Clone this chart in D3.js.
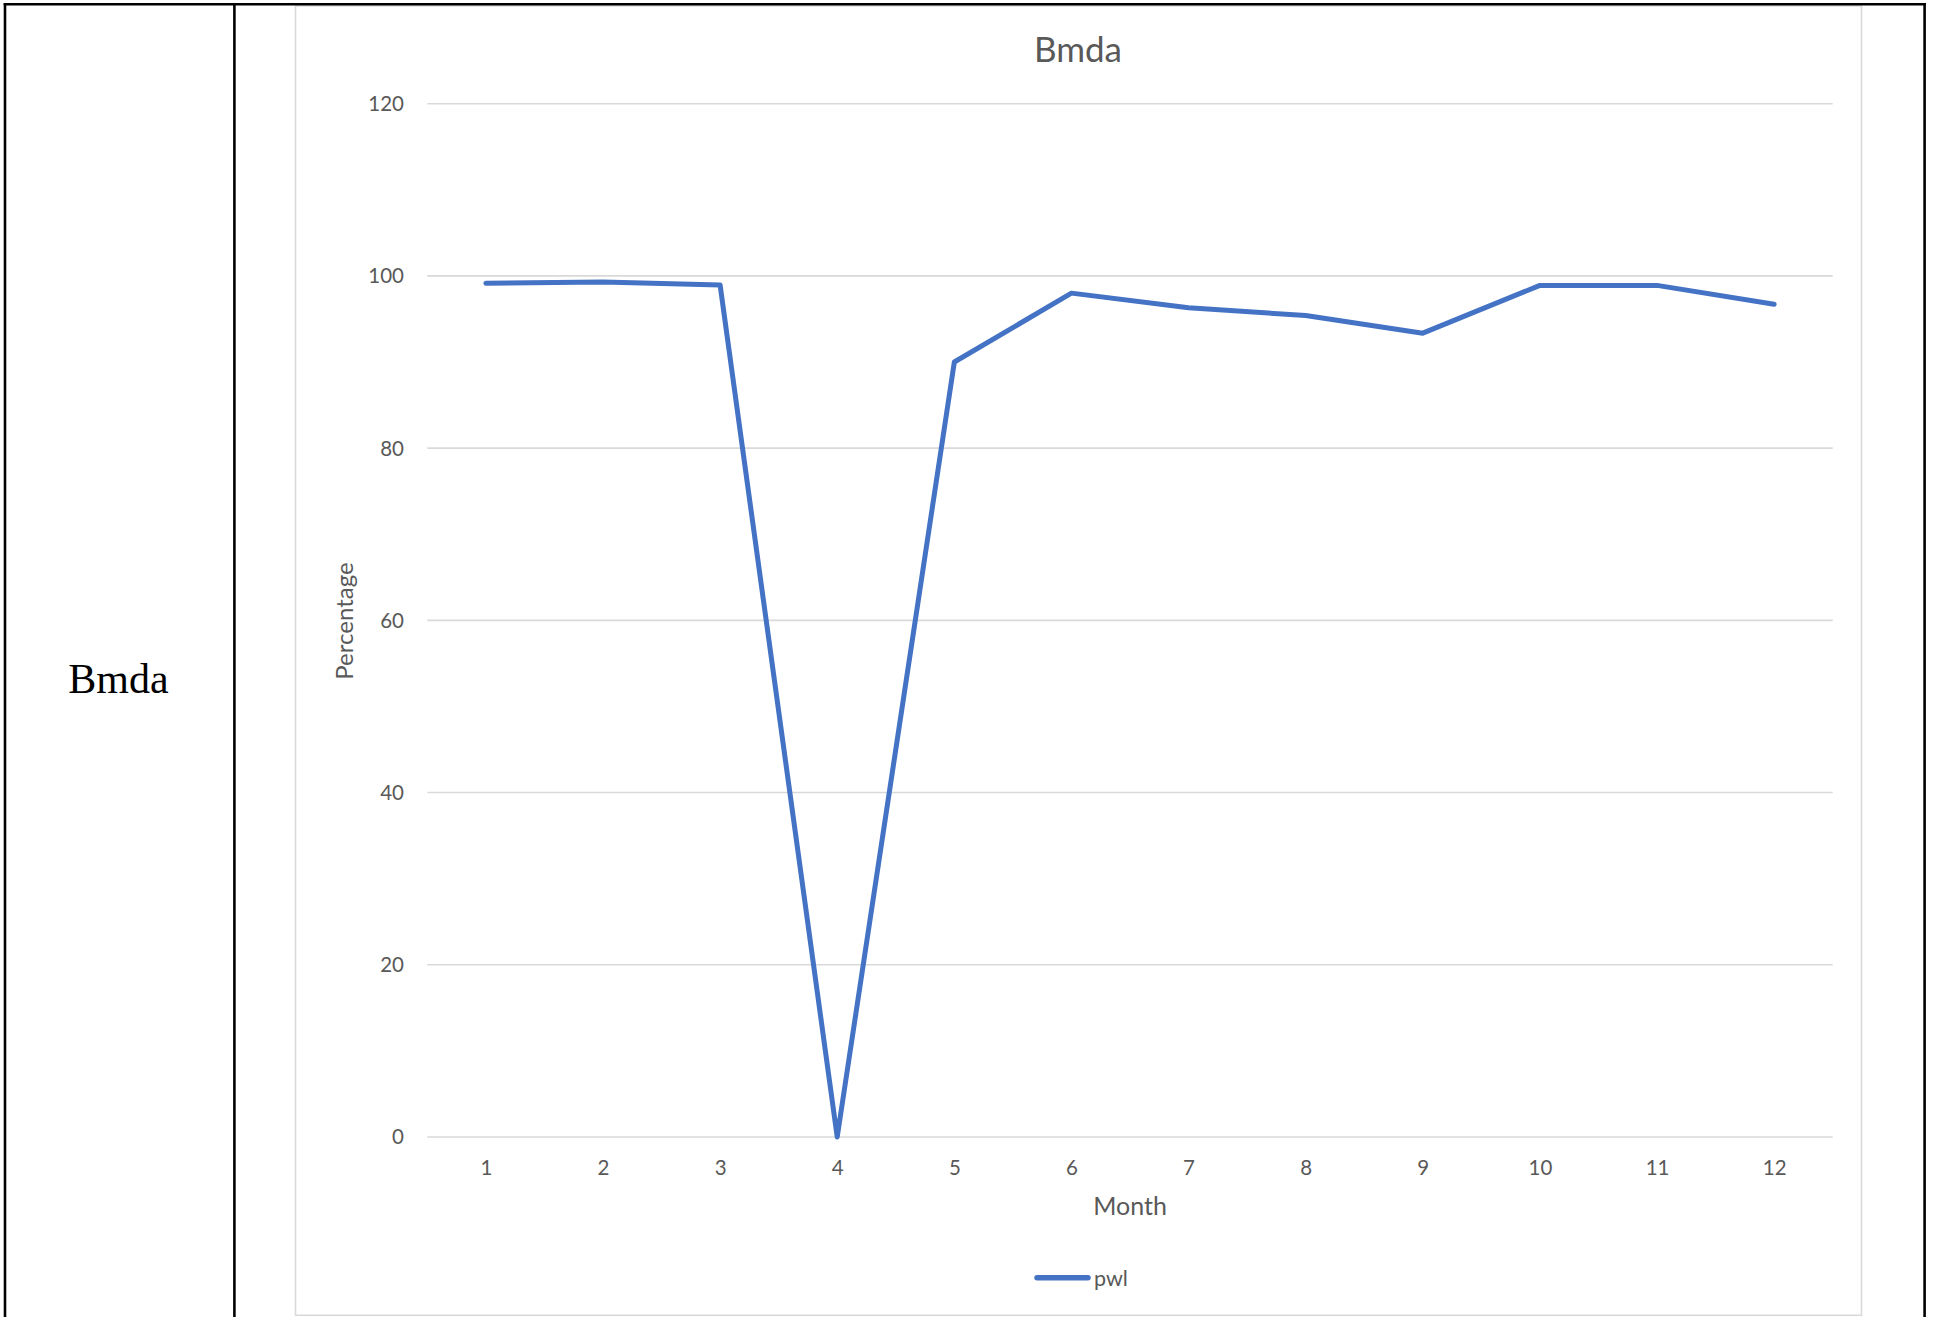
<!DOCTYPE html>
<html>
<head>
<meta charset="utf-8">
<script src="https://cdn.jsdelivr.net/npm/d3@7"></script>
<style>
  html, body { margin: 0; padding: 0; background: #ffffff; }
  svg { display: block; }
</style>
</head>
<body>
<svg id="chart" width="1936" height="1317"></svg>
<script>
// ---- Data ----
const months = ["1","2","3","4","5","6","7","8","9","10","11","12"];
const pwl = [99.15, 99.3, 98.95, 0, 90.0, 98.0, 96.3, 95.4, 93.35, 98.9, 98.9, 96.7];
const yTicks = [0, 20, 40, 60, 80, 100, 120];
const chartTitle = "Bmda";
const rowLabel = "Bmda";
const seriesName = "pwl";
const xTitle = "Month";
const yTitle = "Percentage";

const W = 1936, H = 1317;
const svg = d3.select("#chart");
const font = "Lato, 'Open Sans', sans-serif";
const textColor = "#595959";
const lineColor = "#4472C4";

// ---- table frame ----
svg.append("rect").attr("x", 0).attr("y", 0).attr("width", W).attr("height", H).attr("fill", "#fff");
// chart area border
svg.append("rect")
  .attr("x", 295.5).attr("y", 5.8).attr("width", 1566).attr("height", 1309.5)
  .attr("fill", "#fff").attr("stroke", "#d9d9d9").attr("stroke-width", 1.6);
// table lines
const tbl = svg.append("g").attr("stroke", "#000").attr("stroke-width", 2.6);
tbl.append("line").attr("x1", 3.7).attr("x2", 1925.8).attr("y1", 4.3).attr("y2", 4.3);
tbl.append("line").attr("x1", 5).attr("x2", 5).attr("y1", 3).attr("y2", H);
tbl.append("line").attr("x1", 234.4).attr("x2", 234.4).attr("y1", 3).attr("y2", H);
tbl.append("line").attr("x1", 1924.6).attr("x2", 1924.6).attr("y1", 3).attr("y2", H);

svg.append("text")
  .attr("x", 118.5).attr("y", 693)
  .attr("text-anchor", "middle")
  .attr("font-family", "'Liberation Serif', 'Times New Roman', serif")
  .attr("font-size", 42).attr("fill", "#000")
  .text(rowLabel);

// ---- scales ----
const x = d3.scalePoint().domain(months).range([427.3, 1832.7]).padding(0.5);
const y = d3.scaleLinear().domain([0, 120]).range([1137, 103.7]);

// gridlines
svg.append("g").selectAll("line").data(yTicks).join("line")
  .attr("x1", 427.3).attr("x2", 1832.7)
  .attr("y1", d => y(d)).attr("y2", d => y(d))
  .attr("stroke", "#d9d9d9").attr("stroke-width", 1.6);

// y axis labels
const yAxis = d3.axisLeft(y).tickValues(yTicks).tickSize(0).tickPadding(0);
const gy = svg.append("g").attr("transform", "translate(404,0)").call(yAxis);
gy.select(".domain").remove();
gy.selectAll("text").attr("font-family", font).attr("font-size", 20.5).attr("fill", textColor).attr("dy", "0.34em");

// x axis labels
const xAxis = d3.axisBottom(x).tickSize(0).tickPadding(0);
const gx = svg.append("g").attr("transform", "translate(0,1160.5)").call(xAxis);
gx.select(".domain").remove();
gx.selectAll("text").attr("font-family", font).attr("font-size", 20.5).attr("fill", textColor).attr("dy", "0.71em");

// title
svg.append("text").attr("x", 1078).attr("y", 61.5).attr("text-anchor", "middle")
  .attr("font-family", font).attr("font-size", 35).attr("fill", textColor).text(chartTitle);

// axis titles
svg.append("text").attr("x", 1130).attr("y", 1215).attr("text-anchor", "middle")
  .attr("font-family", font).attr("font-size", 25).attr("fill", textColor).text(xTitle);
svg.append("text").attr("transform", "translate(353,621) rotate(-90)").attr("text-anchor", "middle")
  .attr("font-family", font).attr("font-size", 24).attr("fill", textColor).text(yTitle);

// line
const line = d3.line().x((d, i) => x(months[i])).y(d => y(d));
svg.append("path").datum(pwl)
  .attr("d", line).attr("fill", "none")
  .attr("stroke", lineColor).attr("stroke-width", 5)
  .attr("stroke-linejoin", "round").attr("stroke-linecap", "round");

// legend
svg.append("line").attr("x1", 1037).attr("x2", 1088).attr("y1", 1277.7).attr("y2", 1277.7)
  .attr("stroke", lineColor).attr("stroke-width", 5.5).attr("stroke-linecap", "round");
svg.append("text").attr("x", 1094).attr("y", 1285.5)
  .attr("font-family", font).attr("font-size", 21.5).attr("fill", textColor).text(seriesName);
</script>
</body>
</html>
